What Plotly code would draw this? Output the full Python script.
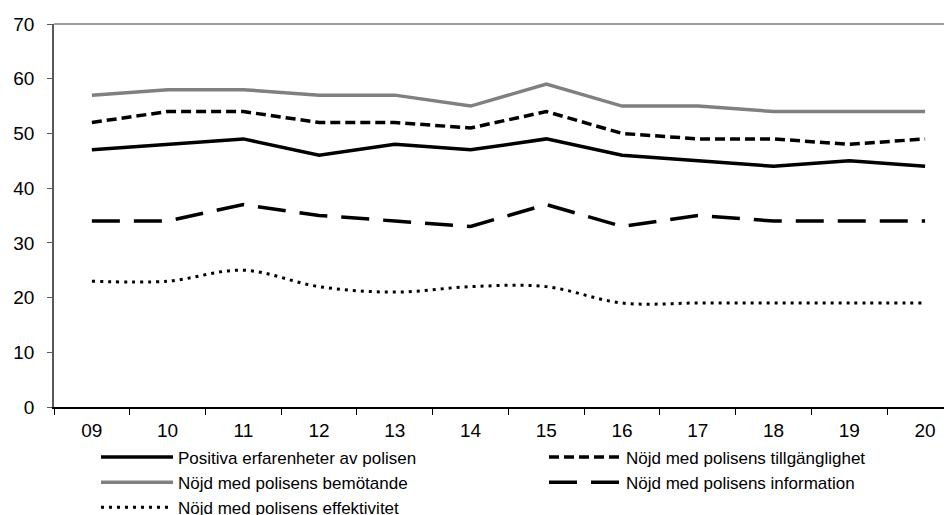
import plotly.graph_objects as go

years = ["09", "10", "11", "12", "13", "14", "15", "16", "17", "18", "19", "20"]

positiva = [47, 48, 49, 46, 48, 47, 49, 46, 45, 44, 45, 44]
tillganglighet = [52, 54, 54, 52, 52, 51, 54, 50, 49, 49, 48, 49]
bemotande = [57, 58, 58, 57, 57, 55, 59, 55, 55, 54, 54, 54]
information = [34, 34, 37, 35, 34, 33, 37, 33, 35, 34, 34, 34]
effektivitet = [23, 23, 25, 22, 21, 22, 22, 19, 19, 19, 19, 19]

names = [
    "Positiva erfarenheter av polisen",
    "Nöjd med polisens tillgänglighet",
    "Nöjd med polisens bemötande",
    "Nöjd med polisens information",
    "Nöjd med polisens effektivitet",
]

FONT = "Liberation Sans, Arial, sans-serif"
W, H = 952, 515
LEG_FS = 17

fig = go.Figure()
fig.add_trace(go.Scatter(x=years, y=positiva, name=names[0], mode="lines", legend="legend",
                         line=dict(color="#000000", width=3.5)))
fig.add_trace(go.Scatter(x=years, y=tillganglighet, name=names[1], mode="lines", legend="legend2",
                         line=dict(color="#000000", width=3.5, dash="10px,5px")))
fig.add_trace(go.Scatter(x=years, y=bemotande, name=names[2], mode="lines", legend="legend",
                         line=dict(color="#808080", width=3.5)))
fig.add_trace(go.Scatter(x=years, y=information, name=names[3], mode="lines", legend="legend2",
                         line=dict(color="#000000", width=3.5, dash="28px,14px")))
fig.add_trace(go.Scatter(x=years, y=effektivitet, name=names[4], mode="lines", legend="legend",
                         line=dict(color="#000000", width=3, dash="3px,5px",
                                   shape="spline", smoothing=1)))

leg_common = dict(
    orientation="v",
    xref="container", yref="container",
    xanchor="left", yanchor="top",
    font=dict(family=FONT, size=LEG_FS, color="black"),
    bgcolor="rgba(0,0,0,0)",
    traceorder="normal",
    borderwidth=0,
    itemwidth=72,
)
leg_top = 431.5

fig.update_layout(
    width=W, height=H,
    margin=dict(l=46, r=8, t=16, b=116, autoexpand=False),
    paper_bgcolor="white", plot_bgcolor="white",
    font=dict(family=FONT, color="black", size=19),
    showlegend=True,
    legend=dict(leg_common, x=88 / W, y=1 - leg_top / H),
    legend2=dict(leg_common, x=536 / W, y=1 - leg_top / H),
    xaxis=dict(
        type="category",
        range=[-0.5, 11.355],
        tickson="boundaries",
        ticks="outside", ticklen=6, tickcolor="#000000",
        showline=True, linecolor="#000000", linewidth=1.5,
        showgrid=False, zeroline=False,
        tickfont=dict(family=FONT, size=19, color="black"),
        tickangle=0,
        ticklabelstandoff=5,
    ),
    yaxis=dict(
        range=[0, 70], dtick=10,
        ticks="outside", ticklen=5, tickcolor="#595959",
        showline=True, linecolor="#595959", linewidth=1.5,
        showgrid=False, zeroline=False,
        tickfont=dict(family=FONT, size=19, color="black"),
        ticklabelstandoff=9,
    ),
    shapes=[dict(type="line", xref="paper", yref="paper", x0=0, x1=1, y0=1, y1=1,
                 line=dict(color="#808080", width=1.5))],
)

fig.write_html("out.html")
